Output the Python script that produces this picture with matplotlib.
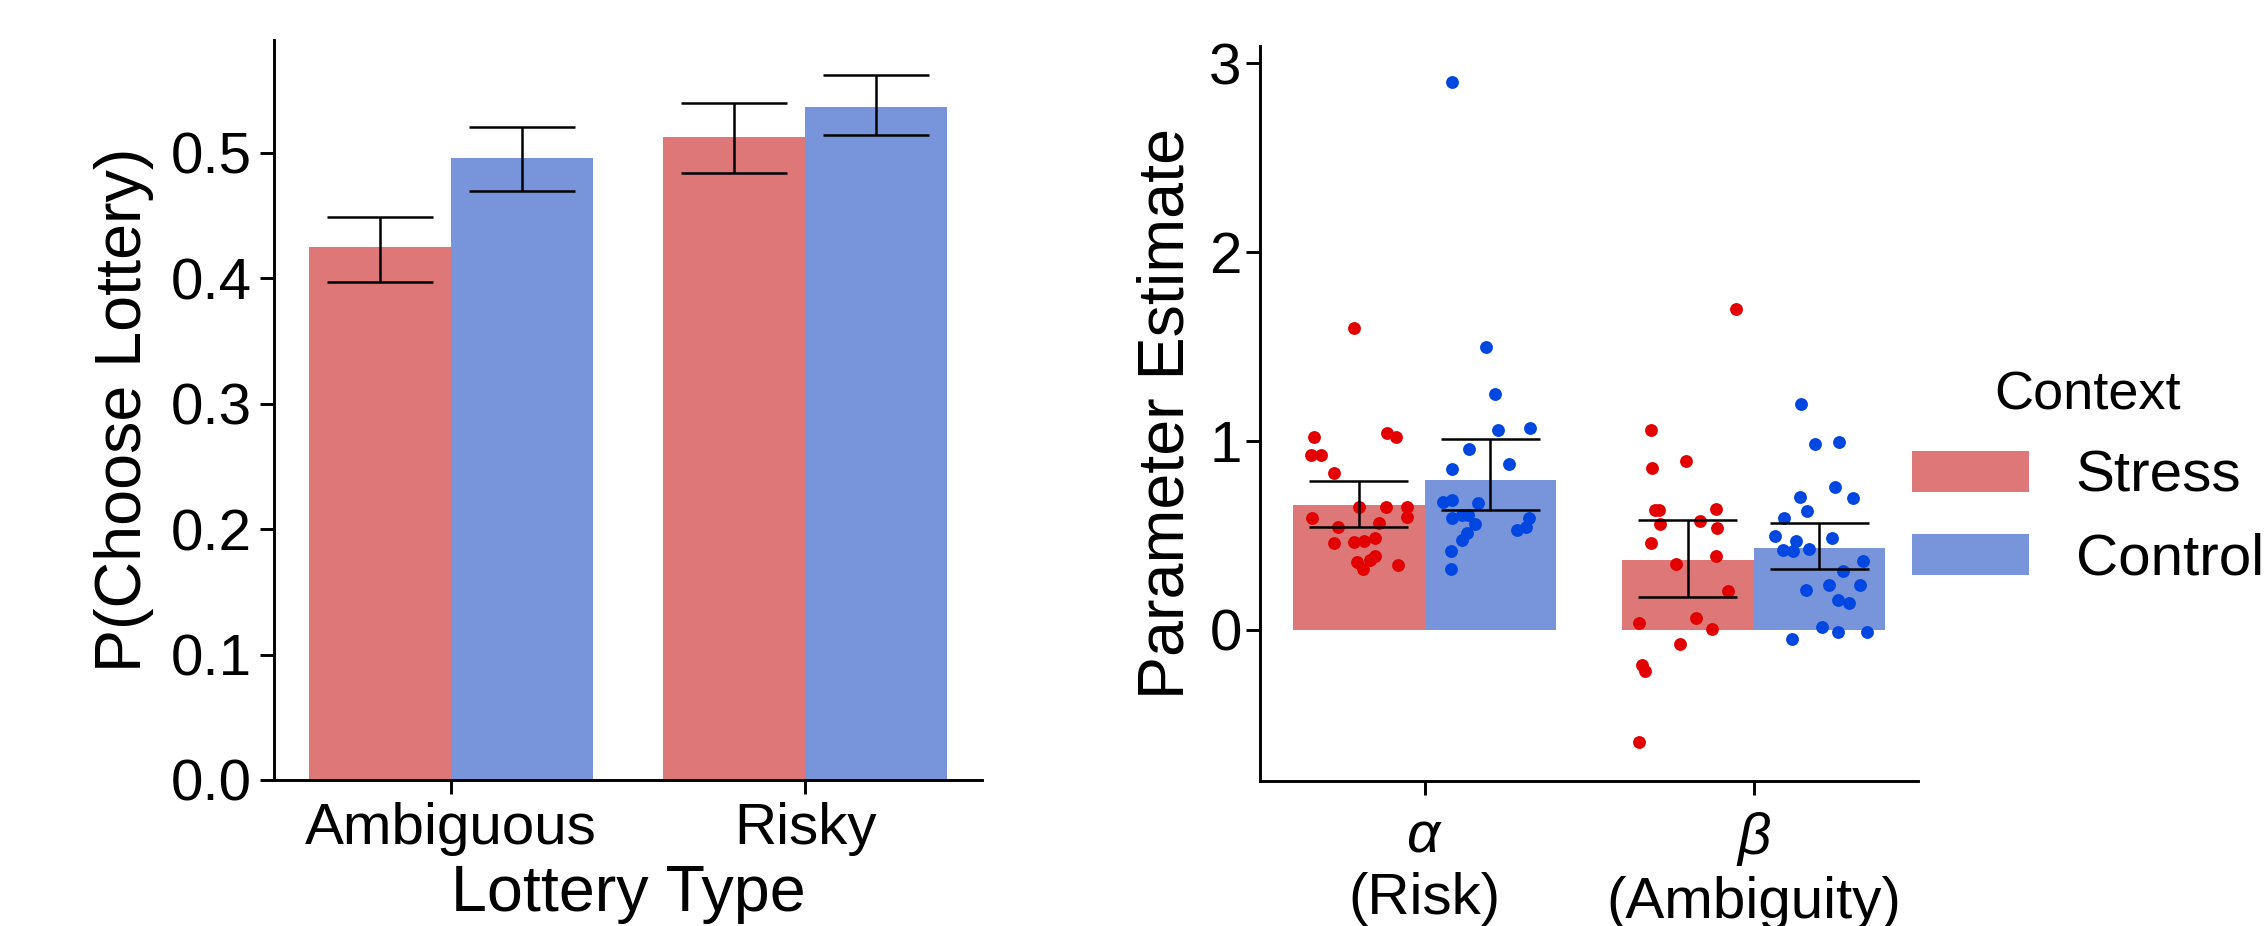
import numpy as np
import matplotlib.pyplot as plt
from matplotlib.patches import Patch

plt.rcParams['font.family'] = ['Liberation Sans', 'DejaVu Sans']
plt.rcParams['mathtext.fontset'] = 'custom'
plt.rcParams['mathtext.rm'] = 'Liberation Sans'
plt.rcParams['mathtext.it'] = 'Liberation Sans:italic'

contexts = ['Stress', 'Control']
bar_colors = ['#DE7777', '#7895DB']
dot_colors = ['#E30000', '#0046E0']

# Left panel: P(choose lottery)
lottery_types = ['Ambiguous', 'Risky']
p_mean = [[0.425, 0.513], [0.496, 0.537]]
p_low = [[0.397, 0.484], [0.470, 0.514]]
p_high = [[0.449, 0.540], [0.521, 0.562]]

# Right panel: parameter estimates
param_labels = [r'$\alpha$' + '\n(Risk)', r'$\beta$' + '\n(Ambiguity)']
est_mean = [[0.662, 0.368], [0.794, 0.431]]
est_low = [[0.543, 0.174], [0.632, 0.322]]
est_high = [[0.786, 0.581], [1.011, 0.566]]

# individual subject estimates (value, horizontal jitter)
alpha_stress = [1.598, 1.019, 1.044, 1.021, 0.925, 0.923, 0.829, 0.652, 0.650, 0.652,
                0.594, 0.597, 0.566, 0.543, 0.458, 0.463, 0.468, 0.488, 0.359, 0.392,
                0.367, 0.324, 0.341]
alpha_stress_jit = [-0.015, -0.137, 0.085, 0.113, -0.146, -0.114, -0.075, 0.001, 0.084, 0.148,
                    -0.142, 0.147, 0.061, -0.063, -0.076, -0.014, 0.017, 0.049, -0.004, 0.049,
                    0.034, 0.012, 0.118]
alpha_control = [2.897, 1.496, 1.249, 1.057, 1.067, 0.956, 0.880, 0.852, 0.677, 0.688,
                 0.672, 0.594, 0.609, 0.607, 0.561, 0.513, 0.475, 0.594, 0.546, 0.526,
                 0.417, 0.321]
alpha_control_jit = [-0.115, -0.012, 0.014, 0.024, 0.122, -0.064, 0.058, -0.117, -0.143, -0.115,
                     -0.036, -0.115, -0.086, -0.069, -0.046, -0.072, -0.087, 0.119, 0.109, 0.081,
                     -0.119, -0.118]
beta_stress = [1.696, 1.060, 0.858, 0.891, 0.636, 0.636, 0.638, 0.560, 0.577, 0.540,
               0.460, 0.390, 0.346, 0.203, 0.037, 0.065, 0.004, -0.074, -0.185, -0.218,
               -0.594]
beta_stress_jit = [0.146, -0.113, -0.110, -0.005, -0.099, -0.086, 0.087, -0.083, 0.037, 0.088,
                   -0.113, 0.087, -0.037, 0.122, -0.147, 0.025, 0.074, -0.024, -0.138, -0.130,
                   -0.147]
beta_control = [1.195, 0.986, 0.995, 0.758, 0.699, 0.703, 0.627, 0.590, 0.499, 0.484,
                0.468, 0.425, 0.416, 0.427, 0.362, 0.311, 0.213, 0.239, 0.237, 0.159,
                0.142, 0.013, -0.013, -0.013, -0.050]
beta_control_jit = [-0.056, -0.013, 0.059, 0.048, 0.103, -0.060, -0.036, -0.108, -0.134, 0.039,
                    -0.070, -0.109, -0.080, -0.031, 0.133, 0.073, -0.040, 0.029, 0.125, 0.058,
                    0.091, 0.007, 0.056, 0.144, -0.084]

points = [[(alpha_stress, alpha_stress_jit), (beta_stress, beta_stress_jit)],
          [(alpha_control, alpha_control_jit), (beta_control, beta_control_jit)]]

bar_w = 0.4
cap_w = 0.3
offsets = [-bar_w / 2, bar_w / 2]

fig = plt.figure(figsize=(7.55, 3.0867), dpi=300)
ax1 = fig.add_axes([0.121, 0.1577, 0.3126, 0.799])
ax2 = fig.add_axes([0.5563, 0.1566, 0.2905, 0.7937])


def draw_err(ax, x, lo, hi):
    for xi, l, h in zip(x, lo, hi):
        ax.vlines(xi, l, h, color='black', lw=0.6, zorder=4)
        ax.hlines([l, h], xi - cap_w / 2, xi + cap_w / 2, color='black', lw=0.6, zorder=4)


idx = np.arange(len(lottery_types))
for c in range(2):
    x = idx + offsets[c]
    ax1.bar(x, p_mean[c], width=bar_w, color=bar_colors[c], linewidth=0, zorder=2)
    draw_err(ax1, x, p_low[c], p_high[c])

ax1.set_xlim(-0.5, 1.5)
ax1.set_ylim(0, 0.59)
ax1.set_xticks(idx)
ax1.set_xticklabels(lottery_types)
ax1.set_yticks(np.arange(0, 0.51, 0.1))
ax1.set_xlabel('Lottery Type', fontsize=15.5, labelpad=1.8)
ax1.set_ylabel('P(Choose Lottery)', fontsize=15.5, labelpad=4)

idx2 = np.arange(len(param_labels))
for c in range(2):
    x = idx2 + offsets[c]
    ax2.bar(x, est_mean[c], width=bar_w, color=bar_colors[c], linewidth=0, zorder=2)
    for k in range(2):
        vals, jit = points[c][k]
        ax2.scatter(idx2[k] + offsets[c] + np.array(jit), vals, s=9.5,
                    color=dot_colors[c], linewidths=0, zorder=3)
    draw_err(ax2, x, est_low[c], est_high[c])

ax2.set_xlim(-0.5, 1.5)
ax2.set_ylim(-0.8, 3.09)
ax2.set_xticks(idx2)
ax2.set_xticklabels(param_labels)
ax2.set_yticks([0, 1, 2, 3])
ax2.set_ylabel('Parameter Estimate', fontsize=15.5, labelpad=3)

for ax in (ax1, ax2):
    ax.spines['top'].set_visible(False)
    ax.spines['right'].set_visible(False)
    for s in ('left', 'bottom'):
        ax.spines[s].set_linewidth(0.7)
    ax.tick_params(labelsize=14, width=0.7, length=3.4, pad=2)
ax2.tick_params(axis='x', pad=3.5)
ax2.tick_params(axis='y', pad=1)

handles = [Patch(facecolor=bar_colors[c], edgecolor='none', label=contexts[c]) for c in range(2)]
fig.legend(handles=handles, title='Context', loc='center left',
           bbox_to_anchor=(0.8314, 0.483), frameon=False, fontsize=14,
           title_fontsize=13, borderpad=0, handlelength=2.0, handleheight=0.7,
           handletextpad=0.8, labelspacing=0.5)

fig.savefig('out.png', dpi=300)
